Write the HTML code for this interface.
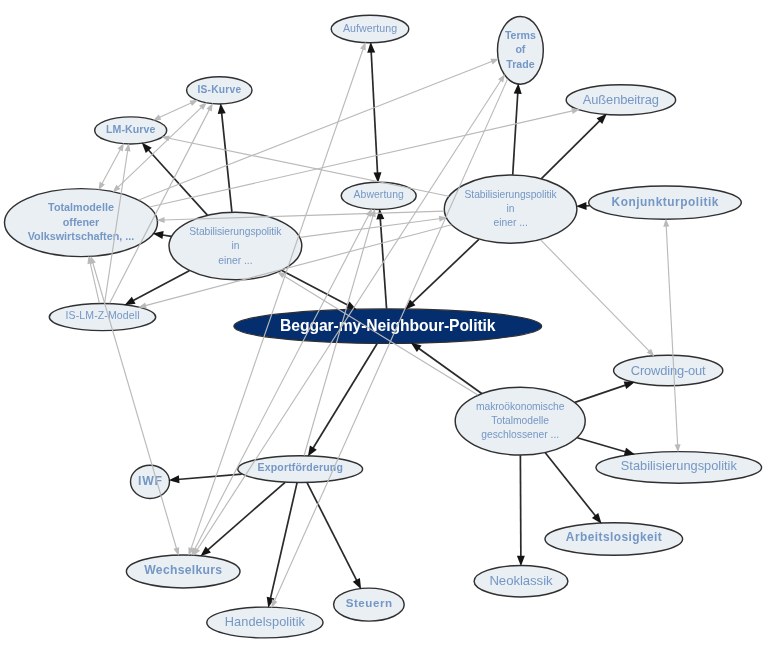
<!DOCTYPE html>
<html><head><meta charset="utf-8"><style>
html,body{margin:0;padding:0;background:#fff;width:770px;height:648px;overflow:hidden}
svg{display:block;will-change:transform}
text{font-family:"Liberation Sans", sans-serif}
</style></head><body>
<svg width="770" height="648" viewBox="0 0 770 648">
<rect width="770" height="648" fill="#fff"/>
<ellipse cx="370" cy="29" rx="38.80" ry="13.80" fill="#e9eff3" stroke="#303030" stroke-width="1.45"/>
<text x="370" y="31.56" text-anchor="middle" font-size="10.6" font-weight="normal" fill="#7597c5" textLength="54.2" lengthAdjust="spacing">Aufwertung</text>
<ellipse cx="520.4" cy="50.3" rx="22.90" ry="33.90" fill="#e9eff3" stroke="#303030" stroke-width="1.45"/>
<text x="520.4" y="38.56" text-anchor="middle" font-size="10.6" font-weight="bold" fill="#7597c5">Terms</text>
<text x="520.4" y="53.16" text-anchor="middle" font-size="10.6" font-weight="bold" fill="#7597c5">of</text>
<text x="520.4" y="67.56" text-anchor="middle" font-size="10.6" font-weight="bold" fill="#7597c5">Trade</text>
<ellipse cx="620.9" cy="99.9" rx="54.70" ry="15.10" fill="#e9eff3" stroke="#303030" stroke-width="1.45"/>
<text x="620.9" y="103.75" text-anchor="middle" font-size="12.9" font-weight="normal" fill="#7597c5" textLength="76.2" lengthAdjust="spacing">Außenbeitrag</text>
<ellipse cx="219.3" cy="90.3" rx="32.70" ry="13.60" fill="#e9eff3" stroke="#303030" stroke-width="1.45"/>
<text x="219.3" y="93.42" text-anchor="middle" font-size="10.2" font-weight="bold" fill="#7597c5" textLength="43.7" lengthAdjust="spacing">IS-Kurve</text>
<ellipse cx="130.7" cy="130.4" rx="36.00" ry="13.50" fill="#e9eff3" stroke="#303030" stroke-width="1.45"/>
<text x="130.7" y="133.31" text-anchor="middle" font-size="10.6" font-weight="bold" fill="#7597c5" textLength="49.5" lengthAdjust="spacing">LM-Kurve</text>
<ellipse cx="81" cy="222.6" rx="76.50" ry="34.00" fill="#e9eff3" stroke="#303030" stroke-width="1.45"/>
<text x="81" y="211.34" text-anchor="middle" font-size="10.8" font-weight="bold" fill="#7597c5">Totalmodelle</text>
<text x="81" y="225.64" text-anchor="middle" font-size="10.8" font-weight="bold" fill="#7597c5">offener</text>
<text x="81" y="239.94" text-anchor="middle" font-size="10.8" font-weight="bold" fill="#7597c5">Volkswirtschaften, ...</text>
<ellipse cx="235.4" cy="246" rx="66.40" ry="33.80" fill="#e9eff3" stroke="#303030" stroke-width="1.45"/>
<text x="235.4" y="235.35" text-anchor="middle" font-size="10.3" font-weight="normal" fill="#7597c5" textLength="92.2" lengthAdjust="spacing">Stabilisierungspolitik</text>
<text x="235.4" y="248.85" text-anchor="middle" font-size="10.3" font-weight="normal" fill="#7597c5">in</text>
<text x="235.4" y="263.95" text-anchor="middle" font-size="10.3" font-weight="normal" fill="#7597c5">einer ...</text>
<ellipse cx="378.7" cy="195.8" rx="37.50" ry="13.60" fill="#e9eff3" stroke="#303030" stroke-width="1.45"/>
<text x="378.7" y="197.69" text-anchor="middle" font-size="10.4" font-weight="normal" fill="#7597c5" textLength="50.2" lengthAdjust="spacing">Abwertung</text>
<ellipse cx="510.6" cy="209.1" rx="66.30" ry="34.10" fill="#e9eff3" stroke="#303030" stroke-width="1.45"/>
<text x="510.6" y="198.45" text-anchor="middle" font-size="10.3" font-weight="normal" fill="#7597c5" textLength="92.2" lengthAdjust="spacing">Stabilisierungspolitik</text>
<text x="510.6" y="212.35" text-anchor="middle" font-size="10.3" font-weight="normal" fill="#7597c5">in</text>
<text x="510.6" y="226.45" text-anchor="middle" font-size="10.3" font-weight="normal" fill="#7597c5">einer ...</text>
<ellipse cx="665" cy="202.6" rx="76.30" ry="16.70" fill="#e9eff3" stroke="#303030" stroke-width="1.45"/>
<text x="665" y="205.84" text-anchor="middle" font-size="11.9" font-weight="bold" fill="#7597c5" textLength="106.9" lengthAdjust="spacing">Konjunkturpolitik</text>
<ellipse cx="102.5" cy="317" rx="53.20" ry="13.60" fill="#e9eff3" stroke="#303030" stroke-width="1.45"/>
<text x="102.5" y="319.03" text-anchor="middle" font-size="10.5" font-weight="normal" fill="#7597c5" textLength="74.0" lengthAdjust="spacing">IS-LM-Z-Modell</text>
<ellipse cx="387.8" cy="326.2" rx="153.90" ry="17.30" fill="#052e6e" stroke="#303030" stroke-width="1.2"/>
<text x="387.8" y="330.82" text-anchor="middle" font-size="15.7" font-weight="bold" fill="#ffffff" textLength="215.4" lengthAdjust="spacing">Beggar-my-Neighbour-Politik</text>
<ellipse cx="668.2" cy="370.5" rx="54.60" ry="15.20" fill="#e9eff3" stroke="#303030" stroke-width="1.45"/>
<text x="668.2" y="374.50" text-anchor="middle" font-size="12.9" font-weight="normal" fill="#7597c5" textLength="74.9" lengthAdjust="spacing">Crowding-out</text>
<ellipse cx="520.2" cy="421.1" rx="65.00" ry="33.90" fill="#e9eff3" stroke="#303030" stroke-width="1.45"/>
<text x="520.2" y="409.95" text-anchor="middle" font-size="10.3" font-weight="normal" fill="#7597c5" textLength="88.5" lengthAdjust="spacing">makroökonomische</text>
<text x="520.2" y="423.65" text-anchor="middle" font-size="10.3" font-weight="normal" fill="#7597c5">Totalmodelle</text>
<text x="520.2" y="438.15" text-anchor="middle" font-size="10.3" font-weight="normal" fill="#7597c5">geschlossener ...</text>
<ellipse cx="678.8" cy="467.4" rx="82.80" ry="15.80" fill="#e9eff3" stroke="#303030" stroke-width="1.45"/>
<text x="678.8" y="470.12" text-anchor="middle" font-size="12.8" font-weight="normal" fill="#7597c5" textLength="116.0" lengthAdjust="spacing">Stabilisierungspolitik</text>
<ellipse cx="150" cy="481.8" rx="19.50" ry="16.60" fill="#e9eff3" stroke="#303030" stroke-width="1.45"/>
<text x="150" y="484.88" text-anchor="middle" font-size="12.3" font-weight="bold" fill="#7597c5" textLength="23.8" lengthAdjust="spacing">IWF</text>
<ellipse cx="300.2" cy="469.1" rx="62.40" ry="13.30" fill="#e9eff3" stroke="#303030" stroke-width="1.45"/>
<text x="300.2" y="471.43" text-anchor="middle" font-size="10.5" font-weight="bold" fill="#7597c5" textLength="85.2" lengthAdjust="spacing">Exportförderung</text>
<ellipse cx="613.8" cy="539" rx="68.80" ry="16.30" fill="#e9eff3" stroke="#303030" stroke-width="1.45"/>
<text x="613.8" y="541.24" text-anchor="middle" font-size="11.9" font-weight="bold" fill="#7597c5" textLength="95.9" lengthAdjust="spacing">Arbeitslosigkeit</text>
<ellipse cx="183.2" cy="571.4" rx="56.80" ry="16.50" fill="#e9eff3" stroke="#303030" stroke-width="1.45"/>
<text x="183.2" y="574.10" text-anchor="middle" font-size="12.2" font-weight="bold" fill="#7597c5" textLength="77.9" lengthAdjust="spacing">Wechselkurs</text>
<ellipse cx="521" cy="581.2" rx="46.90" ry="15.70" fill="#e9eff3" stroke="#303030" stroke-width="1.45"/>
<text x="521" y="584.61" text-anchor="middle" font-size="13.2" font-weight="normal" fill="#7597c5" textLength="63.2" lengthAdjust="spacing">Neoklassik</text>
<ellipse cx="368.9" cy="604.6" rx="35.30" ry="16.50" fill="#e9eff3" stroke="#303030" stroke-width="1.45"/>
<text x="368.9" y="606.83" text-anchor="middle" font-size="11.6" font-weight="bold" fill="#7597c5" textLength="46.4" lengthAdjust="spacing">Steuern</text>
<ellipse cx="264.9" cy="622.5" rx="58.10" ry="15.40" fill="#e9eff3" stroke="#303030" stroke-width="1.45"/>
<text x="264.9" y="626.37" text-anchor="middle" font-size="12.8" font-weight="normal" fill="#7597c5" textLength="80.2" lengthAdjust="spacing">Handelspolitik</text>
<line x1="377.59" y1="174.51" x2="371.12" y2="50.49" stroke="#2a2a2a" stroke-width="1.7"/><path d="M370.68,42.10L375.22,52.38L367.24,52.79Z" fill="#141414"/><path d="M378.03,182.90L373.49,172.62L381.47,172.21Z" fill="#141414"/>
<line x1="386.57" y1="308.60" x2="380.18" y2="217.08" stroke="#2a2a2a" stroke-width="1.7"/><path d="M379.60,208.70L384.32,218.89L376.34,219.45Z" fill="#141414"/>
<line x1="512.72" y1="174.72" x2="517.84" y2="91.74" stroke="#2a2a2a" stroke-width="1.7"/><path d="M518.36,83.36L521.71,94.09L513.72,93.59Z" fill="#141414"/>
<line x1="541.41" y1="178.60" x2="600.89" y2="119.71" stroke="#2a2a2a" stroke-width="1.7"/><path d="M606.86,113.80L602.21,124.03L596.58,118.35Z" fill="#141414"/>
<line x1="589.74" y1="205.77" x2="584.37" y2="205.99" stroke="#2a2a2a" stroke-width="1.7"/><path d="M575.98,206.35L586.30,201.91L586.64,209.90Z" fill="#141414"/>
<line x1="478.88" y1="239.35" x2="411.18" y2="303.91" stroke="#2a2a2a" stroke-width="1.7"/><path d="M405.10,309.71L409.94,299.57L415.46,305.35Z" fill="#141414"/>
<line x1="231.88" y1="211.95" x2="221.50" y2="111.54" stroke="#2a2a2a" stroke-width="1.7"/><path d="M220.63,103.19L225.69,113.22L217.73,114.04Z" fill="#141414"/>
<line x1="207.37" y1="215.06" x2="147.35" y2="148.79" stroke="#2a2a2a" stroke-width="1.7"/><path d="M141.71,142.56L151.73,147.66L145.80,153.03Z" fill="#141414"/>
<line x1="171.45" y1="236.31" x2="160.96" y2="234.72" stroke="#2a2a2a" stroke-width="1.7"/><path d="M152.66,233.46L163.64,231.08L162.44,238.99Z" fill="#141414"/>
<line x1="189.28" y1="270.64" x2="131.85" y2="301.32" stroke="#2a2a2a" stroke-width="1.7"/><path d="M124.44,305.28L131.81,296.80L135.58,303.86Z" fill="#141414"/>
<line x1="281.88" y1="270.46" x2="349.47" y2="306.03" stroke="#2a2a2a" stroke-width="1.7"/><path d="M356.90,309.94L345.75,308.59L349.47,301.51Z" fill="#141414"/>
<line x1="481.67" y1="393.49" x2="417.53" y2="347.51" stroke="#2a2a2a" stroke-width="1.7"/><path d="M410.70,342.61L421.56,345.48L416.90,351.98Z" fill="#141414"/>
<line x1="377.04" y1="343.76" x2="312.25" y2="449.44" stroke="#2a2a2a" stroke-width="1.7"/><path d="M307.86,456.60L309.94,445.56L316.76,449.74Z" fill="#141414"/>
<line x1="574.88" y1="402.41" x2="626.92" y2="384.61" stroke="#2a2a2a" stroke-width="1.7"/><path d="M634.87,381.90L626.23,389.08L623.64,381.51Z" fill="#141414"/>
<line x1="577.24" y1="437.75" x2="626.97" y2="452.27" stroke="#2a2a2a" stroke-width="1.7"/><path d="M635.04,454.62L623.84,455.52L626.08,447.84Z" fill="#141414"/>
<line x1="520.37" y1="455.30" x2="520.88" y2="557.80" stroke="#2a2a2a" stroke-width="1.7"/><path d="M520.93,566.20L516.87,555.72L524.87,555.68Z" fill="#141414"/>
<line x1="545.27" y1="452.68" x2="596.39" y2="517.07" stroke="#2a2a2a" stroke-width="1.7"/><path d="M601.62,523.65L591.95,517.92L598.22,512.94Z" fill="#141414"/>
<line x1="241.78" y1="474.04" x2="177.08" y2="479.51" stroke="#2a2a2a" stroke-width="1.7"/><path d="M168.71,480.22L178.83,475.35L179.51,483.32Z" fill="#141414"/>
<line x1="285.10" y1="482.30" x2="206.72" y2="550.83" stroke="#2a2a2a" stroke-width="1.7"/><path d="M200.40,556.36L205.67,546.44L210.94,552.46Z" fill="#141414"/>
<line x1="297.07" y1="482.68" x2="270.16" y2="599.64" stroke="#2a2a2a" stroke-width="1.7"/><path d="M268.28,607.83L266.73,596.70L274.53,598.49Z" fill="#141414"/>
<line x1="307.05" y1="482.62" x2="357.30" y2="581.72" stroke="#2a2a2a" stroke-width="1.7"/><path d="M361.10,589.21L352.78,581.65L359.92,578.03Z" fill="#141414"/>
<line x1="158.60" y1="117.77" x2="192.19" y2="102.57" stroke="#bababa" stroke-width="1.15"/><path d="M198.02,99.93L191.96,105.96L189.49,100.50Z" fill="#bababa"/><path d="M152.77,120.41L158.82,114.38L161.30,119.85Z" fill="#bababa"/>
<line x1="117.26" y1="187.91" x2="202.25" y2="106.61" stroke="#bababa" stroke-width="1.15"/><path d="M206.87,102.19L203.17,109.89L199.02,105.55Z" fill="#bababa"/><path d="M112.63,192.34L116.34,184.64L120.49,188.98Z" fill="#bababa"/>
<line x1="101.50" y1="184.56" x2="120.89" y2="148.60" stroke="#bababa" stroke-width="1.15"/><path d="M123.93,142.96L122.77,151.43L117.49,148.58Z" fill="#bababa"/><path d="M98.47,190.20L99.62,181.73L104.90,184.58Z" fill="#bababa"/>
<line x1="109.60" y1="303.22" x2="209.86" y2="108.62" stroke="#bababa" stroke-width="1.15"/><path d="M212.79,102.93L211.80,111.42L206.46,108.67Z" fill="#bababa"/>
<line x1="104.60" y1="303.11" x2="127.81" y2="149.51" stroke="#bababa" stroke-width="1.15"/><path d="M128.77,143.18L130.54,151.54L124.61,150.64Z" fill="#bababa"/>
<line x1="99.34" y1="303.12" x2="89.97" y2="261.97" stroke="#bababa" stroke-width="1.15"/><path d="M88.55,255.73L93.25,262.87L87.40,264.20Z" fill="#bababa"/>
<line x1="176.79" y1="549.51" x2="92.48" y2="261.77" stroke="#bababa" stroke-width="1.15"/><path d="M90.68,255.63L95.81,262.46L90.05,264.15Z" fill="#bababa"/><path d="M178.59,555.65L173.46,548.82L179.22,547.13Z" fill="#bababa"/>
<line x1="448.79" y1="196.29" x2="167.62" y2="138.05" stroke="#bababa" stroke-width="1.15"/><path d="M161.35,136.75L169.79,135.43L168.58,141.31Z" fill="#bababa"/>
<line x1="138.71" y1="199.97" x2="492.97" y2="61.06" stroke="#bababa" stroke-width="1.15"/><path d="M498.93,58.72L492.57,64.43L490.38,58.85Z" fill="#bababa"/>
<line x1="149.45" y1="207.04" x2="573.56" y2="110.66" stroke="#bababa" stroke-width="1.15"/><path d="M579.80,109.24L572.66,113.94L571.33,108.09Z" fill="#bababa"/>
<line x1="444.12" y1="211.19" x2="163.00" y2="220.02" stroke="#bababa" stroke-width="1.15"/><path d="M156.61,220.22L164.51,216.97L164.70,222.97Z" fill="#bababa"/>
<line x1="299.92" y1="237.35" x2="440.82" y2="218.46" stroke="#bababa" stroke-width="1.15"/><path d="M447.16,217.61L439.63,221.64L438.84,215.70Z" fill="#bababa"/>
<line x1="451.32" y1="224.77" x2="144.43" y2="305.91" stroke="#bababa" stroke-width="1.15"/><path d="M138.24,307.55L145.21,302.61L146.74,308.41Z" fill="#bababa"/>
<line x1="477.85" y1="395.07" x2="282.49" y2="274.95" stroke="#bababa" stroke-width="1.15"/><path d="M277.04,271.60L285.43,273.24L282.29,278.35Z" fill="#bababa"/>
<line x1="190.70" y1="549.62" x2="363.44" y2="48.06" stroke="#bababa" stroke-width="1.15"/><path d="M365.52,42.01L365.75,50.55L360.08,48.60Z" fill="#bababa"/><path d="M188.62,555.67L188.38,547.13L194.06,549.09Z" fill="#bababa"/>
<line x1="194.29" y1="550.09" x2="369.14" y2="214.17" stroke="#bababa" stroke-width="1.15"/><path d="M372.09,208.49L371.06,216.97L365.74,214.20Z" fill="#bababa"/><path d="M191.34,555.77L192.37,547.29L197.69,550.06Z" fill="#bababa"/>
<line x1="304.10" y1="455.53" x2="373.25" y2="214.79" stroke="#bababa" stroke-width="1.15"/><path d="M375.01,208.64L375.69,217.15L369.92,215.50Z" fill="#bababa"/>
<line x1="196.74" y1="550.48" x2="501.48" y2="79.53" stroke="#bababa" stroke-width="1.15"/><path d="M504.96,74.16L503.13,82.50L498.10,79.24Z" fill="#bababa"/><path d="M193.26,555.86L195.09,547.51L200.12,550.77Z" fill="#bababa"/>
<line x1="507.64" y1="78.87" x2="274.03" y2="602.05" stroke="#bababa" stroke-width="1.15"/><path d="M271.42,607.90L271.94,599.37L277.42,601.81Z" fill="#bababa"/>
<line x1="540.59" y1="239.81" x2="650.03" y2="351.90" stroke="#bababa" stroke-width="1.15"/><path d="M654.51,356.48L646.77,352.85L651.06,348.66Z" fill="#bababa"/>
<line x1="666.17" y1="224.99" x2="677.68" y2="445.91" stroke="#bababa" stroke-width="1.15"/><path d="M678.01,452.30L674.60,444.47L680.59,444.16Z" fill="#bababa"/><path d="M665.83,218.60L669.25,226.43L663.25,226.74Z" fill="#bababa"/>
</svg></body></html>
